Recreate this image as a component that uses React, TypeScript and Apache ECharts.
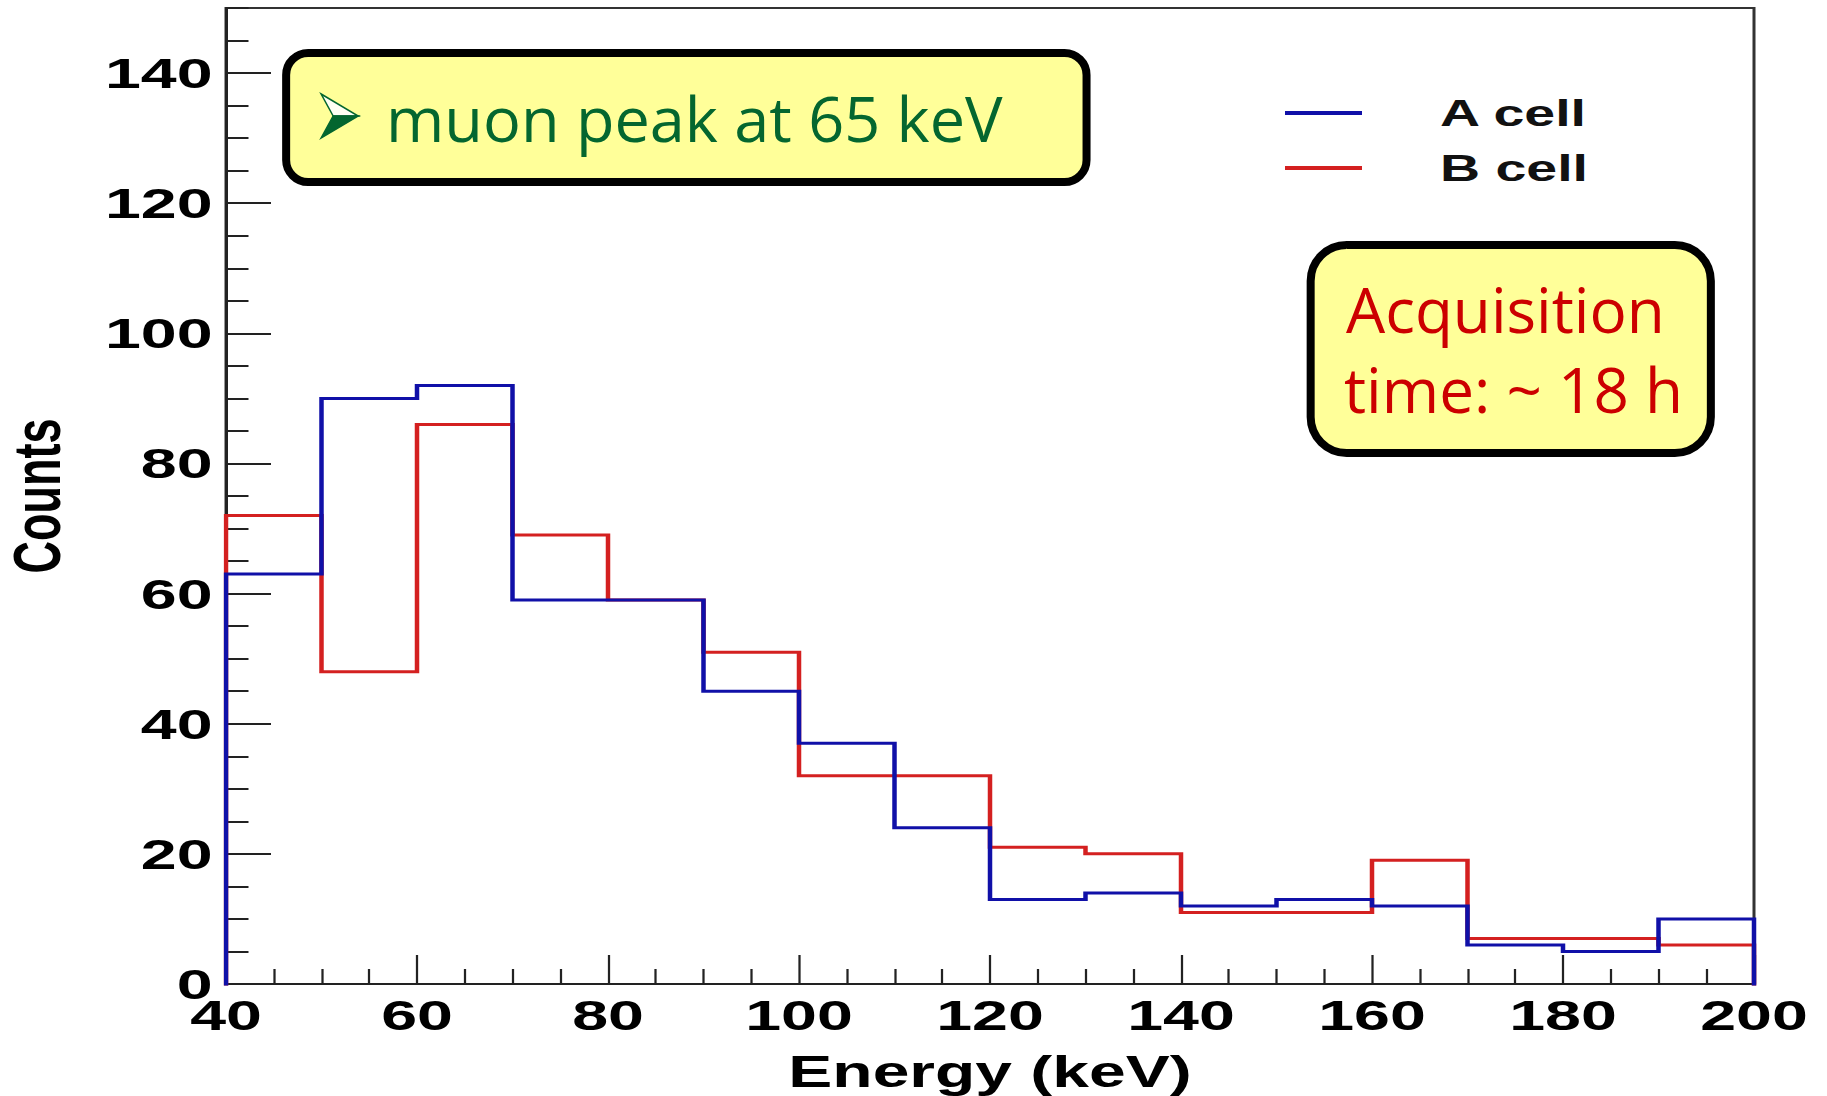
import React, { useEffect, useRef } from "react";
import * as echarts from "echarts";

// ---------- data ----------
const binEdges = [40, 50, 60, 70, 80, 90, 100, 110, 120, 130, 140, 150, 160, 170, 180, 190, 200];
const aCellCounts = [63, 90, 92, 59, 59, 45, 37, 24, 13, 14, 12, 13, 12, 6, 5, 10];
const bCellCounts = [72, 48, 86, 69, 59, 51, 32, 32, 21, 20, 11, 11, 19, 7, 7, 6];
const seriesNames = ["A cell", "B cell"];
const xRange = [40, 200];
const yRange = [0, 150];
const xTitle = "Energy (keV)";
const yTitle = "Counts";
const noteMuon = "muon peak at 65 keV";
const noteTime = ["Acquisition", "time: ~ 18 h"];

// ---------- layout ----------
const S = 1.5; // horizontal stretch of the original plot image
const REAL_W = 1827;
const H = 1096;
const W = REAL_W / S;

const BLUE = "#1010a8";
const RED = "#d42020";
const AXIS = "#222";
const FONT = "Liberation Sans";
const NOTE_FONT = "Open Sans";

function histPoints(values: number[]): number[][] {
  const pts: number[][] = [[binEdges[0], 0]];
  values.forEach((v, i) => {
    pts.push([binEdges[i], v]);
    pts.push([binEdges[i + 1], v]);
  });
  pts.push([binEdges[binEdges.length - 1], 0]);
  return pts;
}

export default function App() {
  const ref = useRef<HTMLDivElement>(null);

  useEffect(() => {
    if (!ref.current) return;
    const chart = echarts.init(ref.current, undefined, { renderer: "svg" });

    const labelStyle = {
      fontFamily: FONT,
      fontWeight: "bold" as const,
      fontSize: 43,
      color: "#000",
    };

    const option: any = {
      animation: false,
      backgroundColor: "#fff",
      grid: {
        left: 226 / S,
        right: (REAL_W - 1754) / S,
        top: 8,
        bottom: H - 984,
        show: true,
        borderColor: "#333",
        borderWidth: 2,
        backgroundColor: "transparent",
        containLabel: false,
        outerBoundsMode: "none",
      },
      legend: {
        data: seriesNames,
        orient: "vertical",
        left: 1285 / S,
        top: 93,
        padding: 0,
        itemWidth: 77 / S,
        itemHeight: 4,
        itemGap: 15,
        icon: "rect",
        textStyle: {
          fontFamily: FONT,
          fontWeight: "bold",
          fontSize: 37,
          color: "#111",
          lineHeight: 40,
          padding: [0, 0, 0, 47],
        },
      },
      xAxis: {
        type: "value",
        min: xRange[0],
        max: xRange[1],
        interval: 20,
        axisLine: { show: true, onZero: false, lineStyle: { color: AXIS, width: 2 } },
        axisTick: { show: true, inside: true, length: 29, lineStyle: { color: AXIS, width: 1.5 } },
        minorTick: { show: true, splitNumber: 4, length: 15, lineStyle: { color: AXIS, width: 1.5 } },
        axisLabel: { ...labelStyle, margin: 10, showMinLabel: true, showMaxLabel: true },
        splitLine: { show: false },
        minorSplitLine: { show: false },
        name: xTitle,
        nameLocation: "middle",
        nameGap: 66,
        nameTextStyle: { fontFamily: FONT, fontWeight: "bold", fontSize: 44, color: "#000" },
      },
      yAxis: [
        {
          type: "value",
          min: yRange[0],
          max: yRange[1],
          interval: 20,
          position: "left",
          axisLine: { show: true, onZero: false, lineStyle: { color: AXIS, width: 2 } },
          axisTick: { show: true, inside: true, length: 30, lineStyle: { color: AXIS, width: 2 } },
          axisLabel: { ...labelStyle, margin: 9, showMaxLabel: false, showMinLabel: true },
          splitLine: { show: false },
          name: yTitle,
          nameLocation: "middle",
          nameGap: 104,
          nameRotate: 90,
          nameTextStyle: { fontFamily: FONT, fontWeight: "bold", fontSize: 45, color: "#000" },
        },
        {
          type: "value",
          min: yRange[0],
          max: yRange[1],
          interval: 5,
          position: "left",
          axisLine: { show: false },
          axisTick: { show: true, inside: true, length: 15, lineStyle: { color: AXIS, width: 2 } },
          axisLabel: { show: false },
          splitLine: { show: false },
        },
      ],
      series: [
        {
          name: seriesNames[0],
          type: "line",
          data: histPoints(aCellCounts),
          symbol: "none",
          showSymbol: false,
          clip: false,
          color: BLUE,
          z: 4,
          lineStyle: { color: BLUE, width: 3, join: "miter", cap: "square" },
        },
        {
          name: seriesNames[1],
          type: "line",
          data: histPoints(bCellCounts),
          symbol: "none",
          showSymbol: false,
          clip: false,
          color: RED,
          z: 3,
          lineStyle: { color: RED, width: 3, join: "miter", cap: "square" },
        },
      ],
      graphic: [
        {
          type: "group",
          x: 0,
          y: 0,
          scaleX: 1 / S,
          z: 10,
          children: [
            {
              type: "rect",
              shape: { x: 286, y: 53, width: 800, height: 129, r: 22 },
              style: { fill: "#ffff99", stroke: "#000", lineWidth: 8 },
            },
            {
              type: "polygon",
              shape: { points: [[321, 94], [358, 116], [333, 116]] },
              style: { fill: "#fffff4", stroke: "#04662f", lineWidth: 1.5 },
            },
            {
              type: "polygon",
              shape: { points: [[333, 116], [358, 116], [321, 138]] },
              style: { fill: "#04662f", stroke: "#04662f", lineWidth: 1.5 },
            },
            {
              type: "text",
              x: 386,
              y: 118,
              style: {
                text: noteMuon,
                fill: "#04662f",
                fontFamily: NOTE_FONT,
                fontSize: 63,
                align: "left",
                verticalAlign: "middle",
              },
            },
            {
              type: "rect",
              shape: { x: 1310, y: 245, width: 400, height: 208, r: 36 },
              style: { fill: "#ffff99", stroke: "#000", lineWidth: 8 },
            },
            {
              type: "text",
              x: 1346,
              y: 309,
              style: {
                text: noteTime[0],
                fill: "#cc0000",
                fontFamily: NOTE_FONT,
                fontSize: 62,
                align: "left",
                verticalAlign: "middle",
              },
            },
            {
              type: "text",
              x: 1344,
              y: 389,
              style: {
                text: noteTime[1],
                fill: "#cc0000",
                fontFamily: NOTE_FONT,
                fontSize: 62,
                align: "left",
                verticalAlign: "middle",
              },
            },
          ],
        },
      ],
    };

    chart.setOption(option);
    return () => {
      chart.dispose();
    };
  }, []);

  return (
    <div
      style={{
        position: "fixed",
        left: 0,
        top: 0,
        width: REAL_W,
        height: H,
        overflow: "hidden",
        background: "#fff",
      }}
    >
      <div
        ref={ref}
        style={{
          width: W,
          height: H,
          transform: `scaleX(${S})`,
          transformOrigin: "0 0",
        }}
      />
    </div>
  );
}
